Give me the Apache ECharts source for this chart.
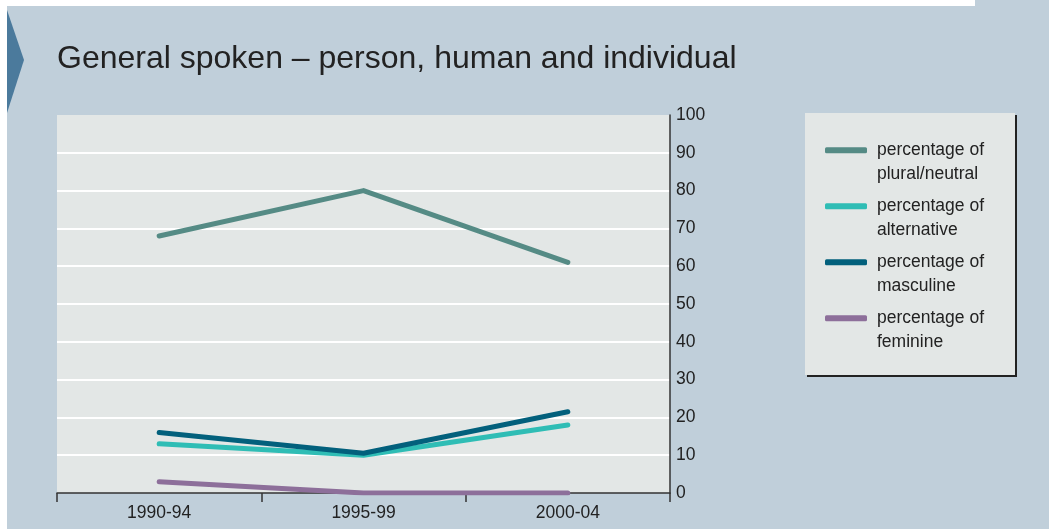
<!DOCTYPE html>
<html>
<head>
<meta charset="utf-8">
<script src="https://cdn.jsdelivr.net/npm/echarts@6/dist/echarts.min.js"></script>
<style>
html,body{margin:0;padding:0;background:#fff;}
#c{width:1049px;height:529px;}
</style>
</head>
<body>
<div id="c"></div>
<script>
const categories = ['1990-94', '1995-99', '2000-04'];
const pluralNeutral = [68, 80, 61];
const alternative = [13, 10, 18];
const masculine = [16, 10.5, 21.5];
const feminine = [3, 0, 0];
const seriesNames = ['percentage of plural/neutral', 'percentage of alternative', 'percentage of masculine', 'percentage of feminine'];
const yTicks = [0, 10, 20, 30, 40, 50, 60, 70, 80, 90, 100];

const NARROW = "'Liberation Sans', Arial, sans-serif";
const colors = ['#558b85', '#2fbdb5', '#02607c', '#8d6f9a'];
const dataSets = [pluralNeutral, alternative, masculine, feminine];

const chart = echarts.init(document.getElementById('c'), null, {renderer: 'canvas'});
chart.setOption({
  animation: false,
  backgroundColor: '#c0cfda',
  graphic: [
    {type: 'rect', shape: {x: 0, y: 0, width: 7, height: 529}, style: {fill: '#ffffff'}, silent: true},
    {type: 'rect', shape: {x: 0, y: 0, width: 975, height: 6}, style: {fill: '#ffffff'}, silent: true},
    {type: 'polygon', shape: {points: [[7, 10], [24, 60], [7, 113]]}, style: {fill: '#4b7a9c'}, silent: true},
    {type: 'text', left: 57, top: 43, style: {text: 'General spoken \u2013 person, human and individual', font: "32px 'Liberation Sans', Arial, sans-serif", fill: '#222222'}},
    {type: 'rect', shape: {x: 805, y: 113, width: 210, height: 262}, style: {fill: '#e3e7e6', shadowColor: '#222222', shadowOffsetX: 2, shadowOffsetY: 2, shadowBlur: 0}, silent: true, z: -1}
  ],
  grid: {left: 57, right: 379, top: 115, bottom: 36, show: true, backgroundColor: '#e3e7e6', borderWidth: 0},
  legend: {
    orient: 'vertical', left: 825, top: 115, padding: 0,
    itemWidth: 42, itemHeight: 6, itemGap: -14.5, icon: 'roundRect',
    data: seriesNames,
    formatter: function (n) { return '\n' + n.replace(' of ', ' of\n'); },
    textStyle: {fontFamily: NARROW, fontSize: 17.5, lineHeight: 23.5, color: '#222222', padding: [0, 0, 0, 5]}
  },
  xAxis: {
    type: 'category', data: categories, boundaryGap: true,
    axisLine: {lineStyle: {color: '#333333', width: 1.5}},
    axisTick: {show: true, length: 9, lineStyle: {color: '#333333', width: 1.5}},
    axisLabel: {fontFamily: NARROW, fontSize: 17.5, color: '#222222', margin: 11}
  },
  yAxis: {
    type: 'value', position: 'right', min: 0, max: 100, interval: 10,
    axisLine: {show: true, lineStyle: {color: '#333333', width: 1.5}},
    axisTick: {show: false},
    axisLabel: {fontFamily: NARROW, fontSize: 17.5, color: '#222222', margin: 6, align: 'left'},
    splitLine: {show: true, showMaxLine: false, showMinLine: false, lineStyle: {color: '#ffffff', width: 2}}
  },
  series: seriesNames.map((n, i) => ({
    name: n, type: 'line', data: dataSets[i], symbol: 'none', color: colors[i],
    lineStyle: {width: 5, color: colors[i], cap: 'round', join: 'round'}
  }))
});
</script>
</body>
</html>
